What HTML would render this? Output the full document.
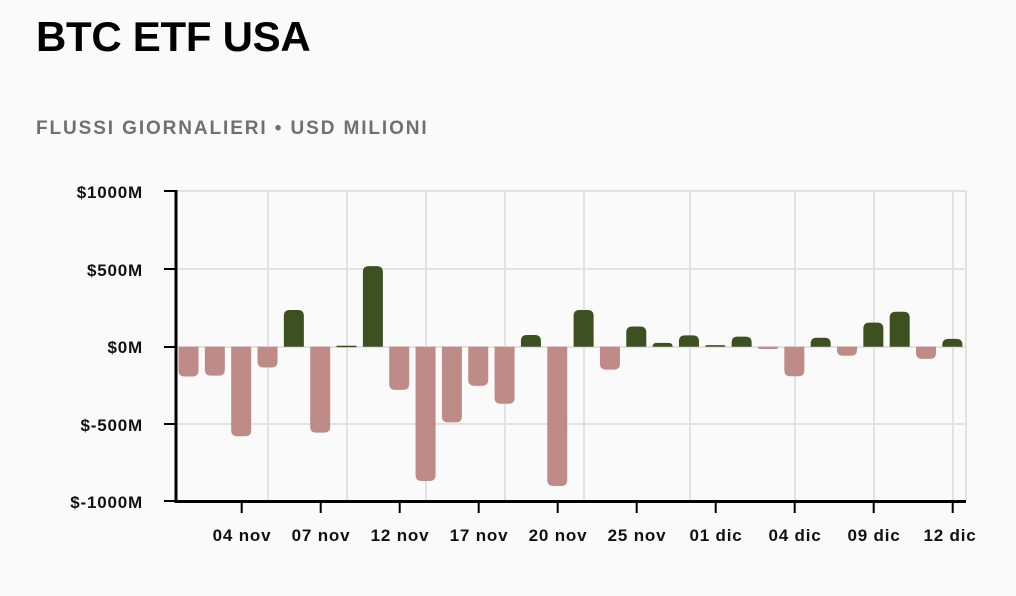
<!DOCTYPE html>
<html><head><meta charset="utf-8"><style>
html,body{margin:0;padding:0;background:#fafafa;}
body{width:1016px;height:596px;overflow:hidden;position:relative;font-family:"Liberation Sans",sans-serif;}
h1{position:absolute;left:36px;top:13px;margin:0;font-size:42px;font-weight:bold;color:#000;letter-spacing:-0.3px;}
.sub{position:absolute;left:36px;top:118px;font-size:19px;color:#707070;letter-spacing:1.9px;font-weight:bold;}
svg{position:absolute;left:0;top:0;}
</style></head><body>
<h1>BTC ETF USA</h1>
<div class="sub">FLUSSI GIORNALIERI • USD MILIONI</div>
<svg width="1016" height="596" xmlns="http://www.w3.org/2000/svg">
<g stroke="#e2e2e2" stroke-width="2" fill="none">
<line x1="176" y1="191" x2="966" y2="191"/>
<line x1="176" y1="269" x2="966" y2="269"/>
<line x1="176" y1="424" x2="966" y2="424"/>
<line x1="966" y1="191" x2="966" y2="501"/>
<line x1="268" y1="191" x2="268" y2="501"/>
<line x1="347" y1="191" x2="347" y2="501"/>
<line x1="426" y1="191" x2="426" y2="501"/>
<line x1="505" y1="191" x2="505" y2="501"/>
<line x1="584" y1="191" x2="584" y2="501"/>
<line x1="690" y1="191" x2="690" y2="501"/>
<line x1="795" y1="191" x2="795" y2="501"/>
<line x1="874" y1="191" x2="874" y2="501"/>
<line x1="953" y1="191" x2="953" y2="501"/>
<line x1="176" y1="347" x2="966" y2="347"/>
</g>
<g id="bars"></g>
<g stroke="#000" stroke-width="3">
<line x1="176" y1="190" x2="176" y2="503"/>
<line x1="175" y1="501.5" x2="966" y2="501.5"/>
</g>
<g stroke="#000" stroke-width="2">
<line x1="164" y1="191" x2="176" y2="191"/><line x1="164" y1="269" x2="176" y2="269"/><line x1="164" y1="347" x2="176" y2="347"/><line x1="164" y1="424" x2="176" y2="424"/><line x1="164" y1="501" x2="176" y2="501"/>
<line x1="241.7" y1="501" x2="241.7" y2="513"/><line x1="320.7" y1="501" x2="320.7" y2="513"/><line x1="399.7" y1="501" x2="399.7" y2="513"/><line x1="478.7" y1="501" x2="478.7" y2="513"/><line x1="557.7" y1="501" x2="557.7" y2="513"/><line x1="636.7" y1="501" x2="636.7" y2="513"/><line x1="715.7" y1="501" x2="715.7" y2="513"/><line x1="794.7" y1="501" x2="794.7" y2="513"/><line x1="873.7" y1="501" x2="873.7" y2="513"/><line x1="952.7" y1="501" x2="952.7" y2="513"/>
</g>
<g font-family="Liberation Sans, sans-serif" font-size="17" font-weight="bold" fill="#111" text-anchor="end" letter-spacing="0.8">
<text x="143" y="198">$1000M</text><text x="143" y="276">$500M</text><text x="143" y="353">$0M</text><text x="143" y="431">$-500M</text><text x="143" y="508">$-1000M</text>
</g>
<g font-family="Liberation Sans, sans-serif" font-size="17" font-weight="bold" fill="#111" text-anchor="middle" letter-spacing="0.8">
<text x="242" y="541">04 nov</text><text x="321" y="541">07 nov</text><text x="400" y="541">12 nov</text><text x="479" y="541">17 nov</text><text x="558" y="541">20 nov</text><text x="637" y="541">25 nov</text><text x="716" y="541">01 dic</text><text x="795" y="541">04 dic</text><text x="874" y="541">09 dic</text><text x="950" y="541">12 dic</text>
</g>
</svg>
<script>
var v=[-192,-186,-577,-134,236,-553,3,519,-278,-865,-487,-252,-367,75,-897,236,-148,130,25,73,10,65,-15,-190,58,-58,155,225,-78,50];
var g=document.getElementById('bars'),s='';
for(var i=0;i<v.length;i++){
 var cx=188.5+i*26.34,w=20,x=cx-w/2,h=Math.abs(v[i])*0.1553,z=346.7,r=Math.min(6,h);
 var col=v[i]>=0?'#3d5020':'#bf8b87';
 if(h<1){s+='<rect x="'+x+'" y="'+(z-1)+'" width="'+w+'" height="1.5" fill="'+col+'"/>';continue;}
 var d;
 if(v[i]>=0){var t=z-h;d='M'+x+','+z+'V'+(t+r)+'Q'+x+','+t+' '+(x+r)+','+t+'H'+(x+w-r)+'Q'+(x+w)+','+t+' '+(x+w)+','+(t+r)+'V'+z+'Z';}
 else{var b=z+h;d='M'+x+','+z+'V'+(b-r)+'Q'+x+','+b+' '+(x+r)+','+b+'H'+(x+w-r)+'Q'+(x+w)+','+b+' '+(x+w)+','+(b-r)+'V'+z+'Z';}
 s+='<path d="'+d+'" fill="'+col+'"/>';
}
g.innerHTML=s;
</script>
</body></html>
